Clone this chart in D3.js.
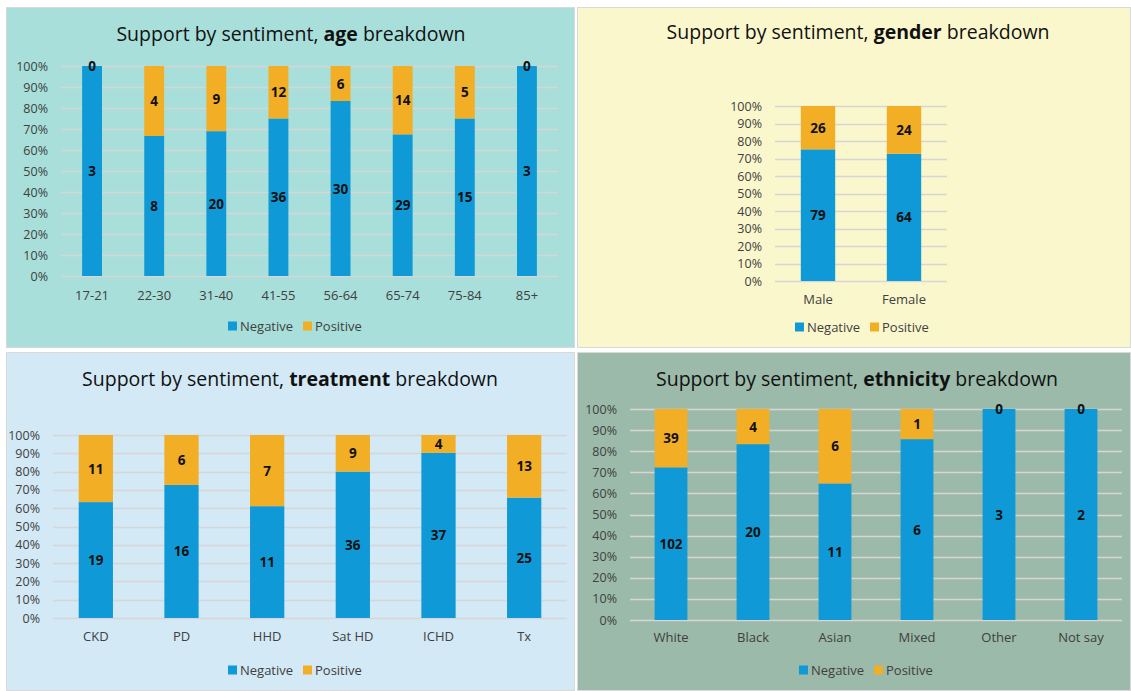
<!DOCTYPE html>
<html><head><meta charset="utf-8">
<script src="https://cdn.jsdelivr.net/npm/d3@7/dist/d3.min.js"></script>
<style>body{margin:0;background:#fff}svg{display:block}</style>
</head><body>
<svg id="c" width="1131" height="691"></svg>
<script>
// ---- Data ----
const ageCats = ["17-21","22-30","31-40","41-55","56-64","65-74","75-84","85+"];
const ageNeg  = [3,8,20,36,30,29,15,3];
const agePos  = [0,4,9,12,6,14,5,0];

const genderCats = ["Male","Female"];
const genderNeg  = [79,64];
const genderPos  = [26,24];

const treatCats = ["CKD","PD","HHD","Sat HD","ICHD","Tx"];
const treatNeg  = [19,16,11,36,37,25];
const treatPos  = [11,6,7,9,4,13];

const ethCats = ["White","Black","Asian","Mixed","Other","Not say"];
const ethNeg  = [102,20,11,6,3,2];
const ethPos  = [39,4,6,1,0,0];

const seriesNames = ["Negative","Positive"];
const yTicks = [0,0.1,0.2,0.3,0.4,0.5,0.6,0.7,0.8,0.9,1];

// ---- Styles ----
const COL_NEG = "#0f9ad7", COL_POS = "#f2ae25";
const FONT = "'Open Sans', 'Noto Sans', sans-serif";
const svg = d3.select("#c");

const panels = [
  {bold:"age", cats:ageCats, neg:ageNeg, pos:agePos, bg:"#a8dfda",
   rect:[6,7,569,341], px:[61,558], py:[66,276], pad:0.68, tx:291, ty:33, lx:296, ly:326, lc:290},
  {bold:"gender", cats:genderCats, neg:genderNeg, pos:genderPos, bg:"#fbf7cd",
   rect:[577,7,554,341], px:[775,947], py:[106,281], pad:0.6, tx:858, ty:31, lx:300, ly:327, lc:857},
  {bold:"treatment", cats:treatCats, neg:treatNeg, pos:treatPos, bg:"#d3e9f6",
   rect:[6,352,569,339], px:[53,567], py:[435,618], pad:0.6, tx:290, ty:378, lx:637, ly:670, lc:290},
  {bold:"ethnicity", cats:ethCats, neg:ethNeg, pos:ethPos, bg:"#9bbaa9",
   rect:[577,352,554,339], px:[630,1122], py:[409,620], pad:0.6, tx:857, ty:378, lx:638, ly:670, lc:861}
];

panels.forEach(p => {
  const g = svg.append("g");
  g.append("rect").attr("x",p.rect[0]+0.5).attr("y",p.rect[1]+0.5)
    .attr("width",p.rect[2]-1).attr("height",p.rect[3]-1)
    .attr("fill",p.bg).attr("stroke","#d9d9d9").attr("stroke-width",1);

  // title
  const t = g.append("text").attr("x",p.tx).attr("y",p.ty).attr("text-anchor","middle")
    .attr("dominant-baseline","central").attr("font-family",FONT).attr("font-size",19.5)
    .attr("fill","#111");
  t.append("tspan").text("Support by sentiment, ");
  t.append("tspan").attr("font-weight","bold").text(p.bold);
  t.append("tspan").text(" breakdown");

  const x = d3.scaleBand().domain(p.cats).range(p.px).paddingInner(p.pad).paddingOuter(p.pad/2);
  const y = d3.scaleLinear().domain([0,1]).range([p.py[1],p.py[0]]);

  // gridlines
  g.append("g").selectAll("line").data(yTicks).join("line")
    .attr("x1",p.px[0]).attr("x2",p.px[1])
    .attr("y1",d=>Math.round(y(d))+0.5).attr("y2",d=>Math.round(y(d))+0.5)
    .attr("stroke","#d6d6d6").attr("stroke-width",1.5);

  // y axis labels
  const ya = g.append("g").attr("transform",`translate(${p.px[0]},0)`)
    .call(d3.axisLeft(y).tickValues(yTicks).tickFormat(d3.format(".0%")).tickSize(0).tickPadding(13));
  ya.select(".domain").remove();
  ya.selectAll("text").attr("font-family",FONT).attr("font-size",12.5).attr("fill","#404040");

  // x axis labels
  const xa = g.append("g").attr("transform",`translate(0,${p.lx-11})`)
    .call(d3.axisBottom(x).tickSize(0).tickPadding(6));
  xa.select(".domain").remove();
  xa.selectAll("text").attr("font-family",FONT).attr("font-size",13).attr("fill","#404040");

  // stacked data
  const rows = p.cats.map((c,i)=>{
    const tot = p.neg[i]+p.pos[i];
    return {cat:c, neg:p.neg[i], pos:p.pos[i], fn:p.neg[i]/tot, fp:p.pos[i]/tot};
  });
  const bw = x.bandwidth();
  g.append("g").selectAll("rect").data(rows).join("rect")
    .attr("x",d=>x(d.cat)).attr("width",bw)
    .attr("y",d=>y(d.fn)).attr("height",d=>y(0)-y(d.fn)).attr("fill",COL_NEG);
  g.append("g").selectAll("rect").data(rows).join("rect")
    .attr("x",d=>x(d.cat)).attr("width",bw)
    .attr("y",d=>y(1)).attr("height",d=>y(d.fn)-y(1)).attr("fill",COL_POS);

  // data labels
  const lab = g.append("g").attr("font-family",FONT).attr("font-size",13.5).attr("font-weight","bold")
    .attr("fill","#111").attr("text-anchor","middle").attr("dominant-baseline","central");
  lab.selectAll("text.n").data(rows).join("text").attr("class","n")
    .attr("x",d=>x(d.cat)+bw/2).attr("y",d=>y(d.fn/2)).text(d=>d.neg);
  lab.selectAll("text.p").data(rows).join("text").attr("class","p")
    .attr("x",d=>x(d.cat)+bw/2).attr("y",d=>y(d.fn + d.fp/2)).text(d=>d.pos);

  // legend
  const lg = g.append("g").attr("transform",`translate(${p.lc-62},${p.ly})`);
  const items = [{n:seriesNames[0],c:COL_NEG,dx:0},{n:seriesNames[1],c:COL_POS,dx:75}];
  items.forEach(it=>{
    lg.append("rect").attr("x",it.dx).attr("y",-4.5).attr("width",9).attr("height",9).attr("fill",it.c);
    lg.append("text").attr("x",it.dx+12).attr("y",0).attr("dominant-baseline","central")
      .attr("font-family",FONT).attr("font-size",13).attr("fill","#404040").text(it.n);
  });
});
</script>
</body></html>
